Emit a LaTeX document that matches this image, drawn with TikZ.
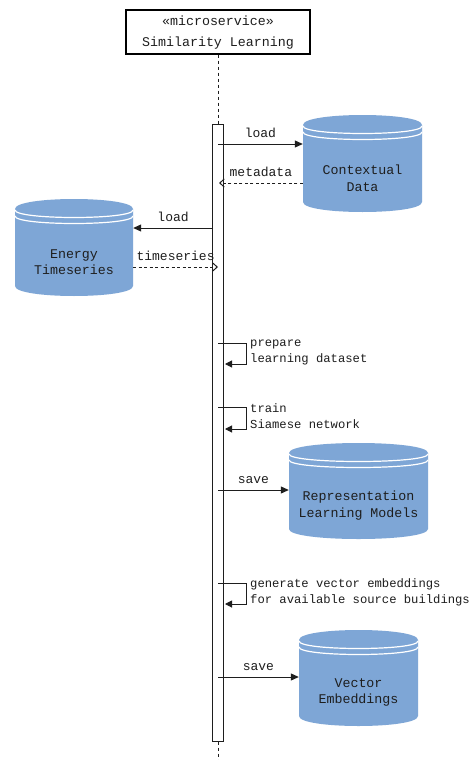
\documentclass[tikz,border=0pt]{standalone}
\usepackage{fontspec}
\newfontfamily\mono{Liberation Mono}
\usetikzlibrary{arrows.meta}
\definecolor{dbblue}{HTML}{7EA6D6}
\definecolor{ink}{HTML}{1E1E1E}
\tikzset{
  dbtext/.style={font=\mono\fontsize{13.3}{16.5}\selectfont, align=center, text=ink, inner sep=0pt},
  headbox/.style={draw=black, line width=1.1pt, fill=white, minimum width=184pt, minimum height=44pt, inner sep=0pt,
    font=\mono\fontsize{13.3}{19}\selectfont, align=center, text=ink},
  actbar/.style={draw=ink, line width=1pt, fill=white, minimum width=11pt, minimum height=617pt, inner sep=0pt},
  lifeline/.style={draw=ink, line width=1pt, dash pattern=on 3pt off 3pt},
  msg/.style={draw=ink, line width=1pt, -{Triangle[length=8pt,width=7pt]}},
  reply/.style={draw=ink, line width=1pt, dash pattern=on 3pt off 2.5pt, -{Straight Barb[length=4.5pt,width=8pt,line width=1pt]}},
  selfmsg/.style={draw=ink, line width=1pt, -{Triangle[length=7pt,width=7pt]}},
  lbl/.style={font=\mono\fontsize{13}{16}\selectfont, text=ink, inner sep=0pt, anchor=base, yshift=7pt},
  selflbl/.style={font=\mono\fontsize{12.2}{16}\selectfont, text=ink, inner sep=0pt, anchor=west, align=left},
  dbline/.style={draw=white, line width=1.2pt},
}
% name, center x, top y, width, height, text
\newcommand\mydatastore[6]{%
  \begin{scope}[shift={(#2-#4/2,#3)}]
    \fill[dbblue] (0,10) .. controls (0,-10/3) and (#4,-10/3) .. (#4,10)
      -- (#4,#5-10) .. controls (#4,#5+10/3) and (0,#5+10/3) .. (0,#5-10) -- cycle;
    \draw[dbline] (0,11) .. controls (0,21) and (#4,21) .. (#4,11);
    \draw[dbline] (0,17) .. controls (0,27) and (#4,27) .. (#4,17);
  \end{scope}
  \node[dbtext, minimum width=#4pt] (#1) at (#2,#3+#5/2+14.5) {#6};
}
\begin{document}
\begin{tikzpicture}[x=1pt,y=-1pt]
\useasboundingbox (0,0) rectangle (469,760);
\fill[white] (0,0) rectangle (469,760);

% header and lifeline
\node[headbox] (head) at (218,32) {\raisebox{2.5pt}{\begin{tabular}{@{}c@{}}«microservice»\\[2pt]Similarity Learning\end{tabular}}};
\node[actbar] (act) at (218,432.5) {};
\coordinate (lifeend) at (218,760);
\draw[lifeline] (head.south) -- (act.north);
\draw[lifeline] (act.south) -- (lifeend);

% data stores
\mydatastore{ctx}{362.5}{115}{119}{97}{Contextual\\Data}
\mydatastore{energy}{74}{199}{118}{97}{Energy\\Timeseries}
\mydatastore{repr}{358.5}{443}{139}{96}{Representation\\Learning Models}
\mydatastore{vec}{358.5}{630}{119}{96}{Vector\\Embeddings}

% message anchor points on the lifeline
\coordinate (m1) at (218,144);
\coordinate (m2) at (219,183);
\coordinate (m3) at (213,228);
\coordinate (m4) at (218,267);
\coordinate (s1) at (218,343);
\coordinate (s1e) at (225,364);
\coordinate (s2) at (218,407);
\coordinate (s2e) at (225,429);
\coordinate (m5) at (218,490);
\coordinate (s3) at (218,583);
\coordinate (s3e) at (225,604);
\coordinate (m6) at (218,677);

% messages
\draw[msg] (m1) -- (m1 -| ctx.west) node[lbl, midway] {load};
\draw[reply] (m2 -| ctx.west) -- (m2) node[lbl, midway] {metadata};
\draw[msg] (m3) -- (m3 -| energy.east) node[lbl, midway] {load};
\draw[reply] (m4 -| energy.east) -- (m4) node[lbl, midway] {timeseries};

\draw[selfmsg] (s1) -- ++(28,0) |- (s1e);
\node[selflbl] (l1) at (250,352) {prepare\\learning dataset};
\draw[selfmsg] (s2) -- ++(28,0) |- (s2e);
\node[selflbl] (l2) at (250,416) {train\\Siamese network};

\draw[msg] (m5) -- (m5 -| repr.west) node[lbl, midway] {save};

\draw[selfmsg] (s3) -- ++(28,0) |- (s3e);
\node[selflbl] (l3) at (250,592) {generate vector embeddings\\for available source buildings};

\draw[msg] (m6) -- (m6 -| vec.west) node[lbl, midway] {save};
\end{tikzpicture}
\end{document}
